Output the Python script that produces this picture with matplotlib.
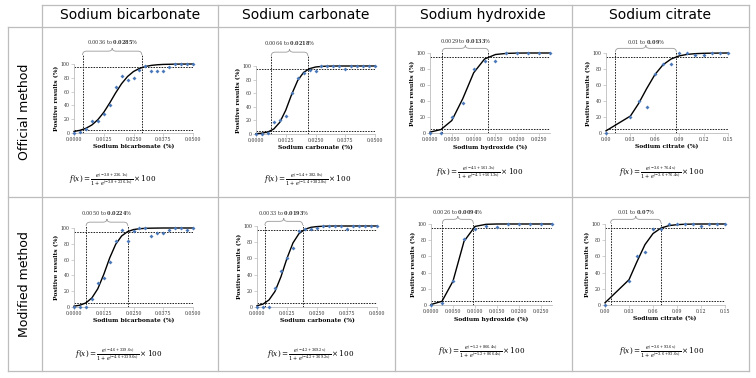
import matplotlib.pyplot as plt
from matplotlib.lines import Line2D
from matplotlib.patches import PathPatch
from matplotlib.path import Path

W, H = 756, 378

# --- data ---------------------------------------------------------------
compounds = ["Sodium bicarbonate", "Sodium carbonate", "Sodium hydroxide", "Sodium citrate"]
methods = ["Official method", "Modified method"]

x_bicarb = [0, 0.0025, 0.005, 0.0075, 0.01, 0.0125, 0.015, 0.0175, 0.02, 0.0225, 0.025,
            0.0275, 0.03, 0.0325, 0.035, 0.0375, 0.04, 0.0425, 0.045, 0.0475, 0.05]
x_carb = x_bicarb
x_hydrox = [0, 0.0025, 0.005, 0.0075, 0.01, 0.0125, 0.015, 0.0175, 0.02, 0.0225, 0.025, 0.0275]
x_citrate = [0, 0.03, 0.04, 0.05, 0.06, 0.07, 0.08, 0.09, 0.10, 0.11, 0.12, 0.13, 0.14, 0.15]

# official method: observed positives (%) and fitted logistic values (%)
bicarb_off = [0, 1, 6, 17, 17, 27, 40, 67, 83, 77, 80, 91, 97, 90, 90, 90, 96, 100, 100, 100, 100]
bicarb_off_fit = [2.2, 3.9, 6.8, 11.6, 19.2, 29.9, 43.5, 58.2, 71.5, 81.9, 89.1, 93.6, 96.4,
                  98.0, 98.9, 99.4, 99.6, 99.8, 99.9, 99.9, 100]
carb_off = [0, 0, 2, 17, 20, 27, 60, 83, 90, 94, 93, 100, 100, 100, 100, 96, 100, 100, 100, 100, 100]
carb_off_fit = [0.5, 1.2, 3.0, 7.4, 17.2, 35.0, 58.4, 78.6, 90.6, 96.1, 98.5, 99.4, 99.8,
                99.9, 100, 100, 100, 100, 100, 100, 100]
hydrox_off = [0, 0, 20, 37, 80, 90, 90, 100, 100, 100, 100, 100]
hydrox_off_fit = [1.1, 4.3, 15.6, 42.8, 75.2, 92.5, 98.1, 99.5, 99.9, 100, 100, 100]
citrate_off = [0, 20, 40, 33, 74, 86, 86, 100, 100, 97, 97, 100, 100, 100]
citrate_off_fit = [2.7, 21.2, 36.7, 55.5, 72.8, 85.2, 92.5, 96.4, 98.3, 99.2, 99.6, 99.8, 99.9, 100]

# modified method
bicarb_mod = [0, 0, 0, 10, 31, 37, 57, 84, 97, 84, 96, 100, 100, 90, 94, 94, 97, 100, 100, 97, 100]
bicarb_mod_fit = [1.0, 2.3, 5.2, 11.4, 23.1, 41.2, 62.1, 79.3, 89.9, 95.4, 98.0, 99.1, 99.6,
                  99.8, 99.9, 100, 100, 100, 100, 100, 100]
carb_mod = [0, 0, 0, 24, 44, 60, 73, 94, 96, 96, 97, 100, 100, 100, 100, 96, 100, 100, 100, 100, 100]
carb_mod_fit = [1.5, 3.6, 8.7, 19.3, 37.5, 60.2, 79.2, 90.6, 96.0, 98.4, 99.3, 99.7, 99.9,
                100, 100, 100, 100, 100, 100, 100, 100]
hydrox_mod = [0, 3, 30, 81, 94, 97, 96, 100, 100, 100, 100, 100]
hydrox_mod_fit = [0.6, 4.6, 29.5, 78.6, 97.0, 99.6, 100, 100, 100, 100, 100, 100]
citrate_mod = [0, 30, 60, 66, 94, 94, 100, 100, 100, 100, 97, 100, 100, 100]
citrate_mod_fit = [2.7, 31.2, 53.6, 74.6, 88.2, 95.0, 98.0, 99.2, 99.7, 99.9, 100, 100, 100, 100]

# 5 % / 95 % cut-offs (where the dashed lines sit) and their printed labels
cut_lo_off = [0.0036, 0.0064, 0.0028, 0.0115]
cut_hi_off = [0.0285, 0.0218, 0.0134, 0.0865]
cut_lo_mod = [0.0051, 0.0033, 0.0026, 0.0070]
cut_hi_mod = [0.0226, 0.0190, 0.0096, 0.0700]
label_lo_off = ["0.0036", "0.0064", "0.0029", "0.01"]
label_hi_off = ["0.0285", "0.0218", "0.0133", "0.09"]
label_lo_mod = ["0.0050", "0.0033", "0.0026", "0.01"]
label_hi_mod = ["0.0224", "0.0193", "0.0094", "0.07"]

coef_off = ["-3.8+236.1x", "-5.4+382.8x", "-4.5+561.3x", "-3.6+76.4x"]
coef_mod = ["-4.6+339.6x", "-4.2+369.2x", "-5.2+866.4x", "-3.6+93.6x"]

xticks_conc = [0, 0.0125, 0.025, 0.0375, 0.05]
xticks_hydrox = [0, 0.005, 0.01, 0.015, 0.02, 0.025]
xticks_citrate = [0, 0.03, 0.06, 0.09, 0.12, 0.15]
yticks = [0, 20, 40, 60, 80, 100]

# --- styling --------------------------------------------------------------
plt.rcParams["font.family"] = "DejaVu Serif"
plt.rcParams["mathtext.fontset"] = "dejavuserif"
BLUE = "#4a78b8"
RULE = "#bdbdbd"
DASH = (0, (1.6, 1.2))

fig = plt.figure(figsize=(W / 100, H / 100), dpi=100)


def fx(px):
    return px / W


def fy(py):
    return 1 - py / H


def rule(xs, ys):
    fig.add_artist(Line2D([fx(v) for v in xs], [fy(v) for v in ys], color=RULE, lw=0.9))


# table grid
rule([42, 749], [5, 5])
for yy in (27, 197, 371):
    rule([8, 749], [yy, yy])
rule([8, 8], [27, 371])
for xx in (42, 218, 395, 572, 749):
    rule([xx, xx], [5, 371])

col_centres = [130, 306, 483, 660]
for name, cx in zip(compounds, col_centres):
    fig.text(fx(cx), fy(15), name, family="DejaVu Sans", fontsize=10, ha="center", va="center")
for name, cy in zip(methods, [112, 284]):
    fig.text(fx(25), fy(cy), name, family="DejaVu Sans", fontsize=9, rotation=90,
             ha="center", va="center")


def brace(ax, x1, x2, y0, h, w):
    xm = (x1 + x2) / 2
    ym = y0 + h * 0.55
    verts = [(x1, y0), (x1, ym), (x1 + w, ym), (xm - w, ym), (xm, ym), (xm, y0 + h),
             (xm, ym), (xm + w, ym), (x2 - w, ym), (x2, ym), (x2, y0)]
    codes = [Path.MOVETO, Path.CURVE3, Path.CURVE3, Path.LINETO, Path.CURVE3, Path.CURVE3,
             Path.CURVE3, Path.CURVE3, Path.LINETO, Path.CURVE3, Path.CURVE3]
    ax.add_patch(PathPatch(Path(verts, codes), fill=False, ec="#9a9a9a", lw=0.6, clip_on=False))


def panel(box, xs, obs, fit, lo, hi, lab_lo, lab_hi, xmax, ticks, fmt, xlabel, coef,
          text_y, eq_xy):
    left, right, top, bottom = box
    ax = fig.add_axes([fx(left), fy(bottom), (right - left) / W, (bottom - top) / H])
    ax.set_xlim(0, xmax)
    ax.set_ylim(0, 100)
    ax.patch.set_alpha(0)
    upx = 100 / (bottom - top)
    xpx = xmax / (right - left)

    ax.plot(xs, fit, color="black", lw=1.0, zorder=3, clip_on=False)
    ax.plot(xs, obs, ls="none", marker="D", ms=2.0, mec="none", color=BLUE, zorder=4,
            clip_on=False)

    for yy in (5, 95):
        ax.plot([0, xmax], [yy, yy], color="#222222", lw=0.7, ls=DASH, zorder=2)
    vtop = max(100 + (top - (text_y + 13)) * upx, 101)
    for xx in (lo, hi):
        ax.plot([xx, xx], [0, vtop], color="#222222", lw=0.7, ls=DASH, zorder=2, clip_on=False)
    brace(ax, lo, hi, vtop, 7 * upx, 4 * xpx)
    ax.text((lo + hi) / 2, 100 + (top - text_y) * upx, lab_lo + r" to $\mathbf{" + lab_hi + "}$%",
            fontsize=3.6, ha="center", va="center", color="#333333")

    ax.set_xticks(ticks)
    ax.set_xticklabels([fmt.format(t) for t in ticks])
    ax.set_yticks(yticks)
    ax.tick_params(length=2, width=0.5, color=RULE, labelsize=3.4, pad=1, labelcolor="#333333")
    for side in ("top", "right"):
        ax.spines[side].set_visible(False)
    for side in ("left", "bottom"):
        ax.spines[side].set_color(RULE)
        ax.spines[side].set_linewidth(0.6)
    ax.set_xlabel(xlabel + " (%)", fontsize=4.3, fontweight="bold", labelpad=1.5)
    ax.set_ylabel("Positive results (%)", fontsize=4.3, fontweight="bold", labelpad=1.5)

    eq = r"$f(x) = \frac{e^{(" + coef + r")}}{1 + e^{(" + coef + r")}} \times 100$"
    fig.text(fx(eq_xy[0]), fy(eq_xy[1]), eq, fontsize=5.2, ha="center", va="center")


panel((74, 193, 64, 133), x_bicarb, bicarb_off, bicarb_off_fit, cut_lo_off[0], cut_hi_off[0],
      label_lo_off[0], label_hi_off[0], 0.05, xticks_conc, "{:.4f}", compounds[0], coef_off[0],
      42, (113, 180))
panel((256, 375, 66, 134), x_carb, carb_off, carb_off_fit, cut_lo_off[1], cut_hi_off[1],
      label_lo_off[1], label_hi_off[1], 0.05, xticks_conc, "{:.4f}", compounds[1], coef_off[1],
      43, (308, 180))
panel((430, 550, 53, 133), x_hydrox, hydrox_off, hydrox_off_fit, cut_lo_off[2], cut_hi_off[2],
      label_lo_off[2], label_hi_off[2], 0.0275, xticks_hydrox, "{:.4f}", compounds[2], coef_off[2],
      41, (480, 173))
panel((606, 728, 53, 133), x_citrate, citrate_off, citrate_off_fit, cut_lo_off[3], cut_hi_off[3],
      label_lo_off[3], label_hi_off[3], 0.15, xticks_citrate, "{:.2f}", compounds[3], coef_off[3],
      42, (662, 173))

panel((74, 193, 228, 307), x_bicarb, bicarb_mod, bicarb_mod_fit, cut_lo_mod[0], cut_hi_mod[0],
      label_lo_mod[0], label_hi_mod[0], 0.05, xticks_conc, "{:.4f}", compounds[0], coef_mod[0],
      213, (119, 355))
panel((257, 377, 226, 307), x_carb, carb_mod, carb_mod_fit, cut_lo_mod[1], cut_hi_mod[1],
      label_lo_mod[1], label_hi_mod[1], 0.05, xticks_conc, "{:.4f}", compounds[1], coef_mod[1],
      213, (311, 355))
panel((431, 552, 224, 305), x_hydrox, hydrox_mod, hydrox_mod_fit, cut_lo_mod[2], cut_hi_mod[2],
      label_lo_mod[2], label_hi_mod[2], 0.0275, xticks_hydrox, "{:.4f}", compounds[2], coef_mod[2],
      212, (482, 352))
panel((605, 725, 224, 305), x_citrate, citrate_mod, citrate_mod_fit, cut_lo_mod[3], cut_hi_mod[3],
      label_lo_mod[3], label_hi_mod[3], 0.15, xticks_citrate, "{:.2f}", compounds[3], coef_mod[3],
      212, (662, 352))

fig.savefig("out.png", dpi=100, facecolor="white")
